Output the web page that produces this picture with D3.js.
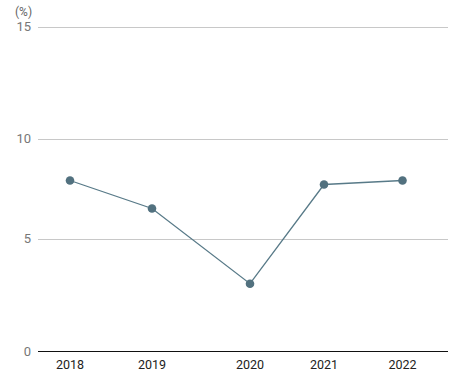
<!DOCTYPE html>
<html><head><meta charset="utf-8">
<script src="https://cdn.jsdelivr.net/npm/d3@7"></script>
<style>body{margin:0;background:#fff}svg{display:block}text{font-family:Roboto,"Noto Sans",sans-serif}</style>
</head><body><svg id="c" width="450" height="380"></svg>
<script>
const years = ["2018","2019","2020","2021","2022"];
const values = [7.9, 6.5, 3.0, 7.7, 7.9];
const yTicks = [0, 5, 10, 15];
const unitLabel = "(%)";

const svg = d3.select("#c");
const x = d3.scaleOrdinal().domain(years).range([70, 152, 250, 324, 402.5]);
const y = d3.scaleLinear().domain([0, 5, 10, 15]).range([351.5, 238.5, 138.5, 26.5]);
const left = 38, right = 448;

// grid
svg.append("g").selectAll("line").data(yTicks.filter(d => d > 0)).join("line")
  .attr("x1", left).attr("x2", right)
  .attr("y1", d => Math.round(y(d)) + 0.5).attr("y2", d => Math.round(y(d)) + 0.5)
  .attr("stroke", "#c8c8c8").attr("stroke-width", 1);
// baseline
svg.append("line").attr("x1", left).attr("x2", right)
  .attr("y1", y(0)).attr("y2", y(0)).attr("stroke", "#111").attr("stroke-width", 1.1);

// y labels
svg.append("g").selectAll("text").data(yTicks).join("text")
  .attr("x", 31).attr("y", d => y(d)).attr("dy", "0.35em")
  .attr("text-anchor", "end").attr("font-size", 13).attr("fill", "#777")
  .text(d => d);
svg.append("text").attr("x", 15).attr("y", 16).attr("font-size", 12).attr("fill", "#666").text(unitLabel);

// x labels
svg.append("g").selectAll("text").data(years).join("text")
  .attr("x", d => x(d)).attr("y", 369).attr("text-anchor", "middle")
  .attr("font-size", 12.5).attr("fill", "#222").text(d => d);

const pts = years.map((yr, i) => [x(yr), y(values[i])]);
svg.append("path").attr("d", d3.line()(pts)).attr("fill", "none")
  .attr("stroke", "#587a88").attr("stroke-width", 1.3);
svg.append("g").selectAll("circle").data(pts).join("circle")
  .attr("cx", d => d[0]).attr("cy", d => d[1]).attr("r", 4.3).attr("fill", "#52717f");
</script></body></html>
